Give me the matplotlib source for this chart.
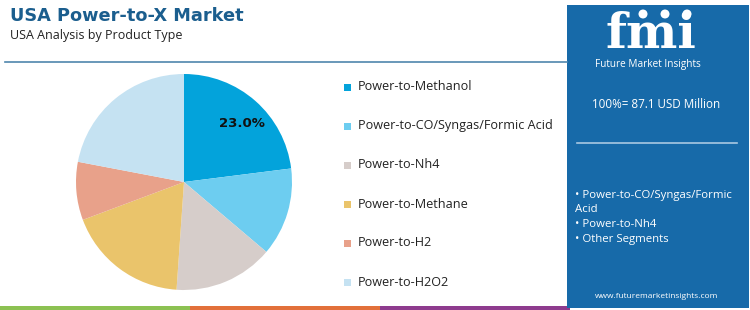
import matplotlib
matplotlib.use("Agg")
import matplotlib.pyplot as plt
from matplotlib.patches import Rectangle, Circle
import numpy as np

plt.rcParams['font.family'] = ['Open Sans', 'DejaVu Sans']

categories = ["Power-to-Methanol", "Power-to-CO/Syngas/Formic Acid", "Power-to-Nh4",
              "Power-to-Methane", "Power-to-H2", "Power-to-H2O2"]
shares = [23.0, 13.2, 14.9, 18.2, 8.7, 22.0]
colors = ["#03a3db", "#6dcdf0", "#d6cdca", "#eac46b", "#e8a18a", "#c5e2f2"]
shown_label = "23.0%"
title = "USA Power-to-X Market"
subtitle = "USA Analysis by Product Type"
total_text = "100%= 87.1 USD Million"
bullets = ["• Power-to-CO/Syngas/Formic\nAcid", "• Power-to-Nh4", "• Other Segments"]
url = "www.futuremarketinsights.com"

W, H = 750, 310
fig = plt.figure(figsize=(W/100, H/100), dpi=100)
bg = fig.add_axes([0, 0, 1, 1])
bg.set_xlim(0, W); bg.set_ylim(H, 0); bg.axis('off')

# title
bg.text(10, 16, title, fontsize=12.8, fontweight='bold', family='DejaVu Sans',
        color='#1b5e8e', va='center', ha='left')
bg.text(10, 36, subtitle, fontsize=9, color='#222222', va='center', ha='left')
bg.plot([5, 567], [62, 62], color='#4f86ad', lw=1.2)

# bottom strip
for x0, c in [(0, '#8cc152'), (190, '#e2703a'), (380, '#8e3b8e')]:
    bg.add_patch(Rectangle((x0, 306), 190, 4, color=c, lw=0))

# right panel
panel = '#176aa9'
bg.add_patch(Rectangle((567, 5), 182, 303, color=panel, lw=0))
bg.text(651, 48, "fmi", fontsize=35, fontweight='bold', family='DejaVu Serif', color='white',
        ha='center', va='baseline')
for yy in np.arange(19, 50, 3.2):
    bg.plot([598, 705], [yy, yy], color=panel, lw=0.8)
for cx in [643, 665, 687]:
    bg.add_patch(Circle((cx, 14), 4.5, color='white', lw=0))
bg.text(648, 65, "Future Market Insights", fontsize=7.2, color='white', ha='center', va='center')
bg.text(656, 104, total_text, fontsize=8.4, color='white', ha='center', va='center')
bg.plot([577, 737], [143, 143], color='#a9c8e2', lw=1.2)
bg.text(575, 190, bullets[0], fontsize=8.2, color='white', ha='left', va='top', linespacing=1.4)
bg.text(575, 219, bullets[1], fontsize=8.2, color='white', ha='left', va='top')
bg.text(575, 234, bullets[2], fontsize=8.2, color='white', ha='left', va='top')
bg.text(657, 297, url, fontsize=6, color='white', ha='center', va='center')

# legend
for i, (cat, c) in enumerate(zip(categories, colors)):
    y = 87 + i * 39
    bg.add_patch(Rectangle((344, y - 3.5), 7, 7, color=c, lw=0))
    bg.text(358, y, cat, fontsize=9.1, color='#222222', va='center', ha='left')

# pie
r = 108
cx, cy = 184, 182
ax = fig.add_axes([(cx - r) / W, 1 - (cy + r) / H, 2 * r / W, 2 * r / H])
ax.pie(shares, colors=colors, startangle=90, counterclock=False,
       wedgeprops=dict(linewidth=0))
ax.set_aspect('auto')
ax.set_xlim(-1, 1); ax.set_ylim(-1, 1)
ax.text(0.54, 0.54, shown_label, fontsize=9.5, fontweight='bold',
        family='DejaVu Sans', color='#111111', ha='center', va='center')

fig.savefig('out.png', dpi=100)
